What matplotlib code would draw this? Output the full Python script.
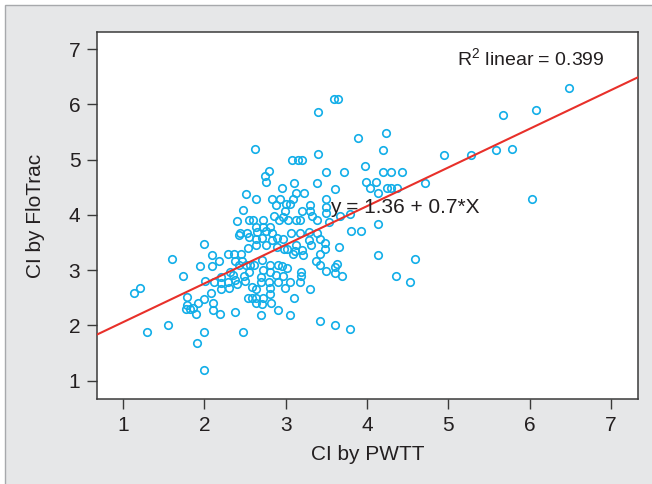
import matplotlib
matplotlib.use("Agg")
import matplotlib.pyplot as plt
from matplotlib.patches import Rectangle
import numpy as np

plt.rcParams['font.family'] = ['Liberation Sans', 'DejaVu Sans']
plt.rcParams['mathtext.fontset'] = 'custom'
plt.rcParams['mathtext.rm'] = 'Liberation Sans'

# Data (CI by PWTT, CI by FloTrac)
pwtt = [1.14, 1.21, 1.29, 1.55, 1.60, 1.74, 1.79, 1.79, 1.77, 1.82, 1.86, 1.90, 1.92, 1.99,
        1.91, 1.99, 2.00, 2.48, 2.00, 1.94, 2.01, 2.09, 2.09, 2.18, 2.29, 2.37, 2.45, 2.38,
        2.46, 2.54, 2.08, 2.10, 2.11, 2.19, 2.20, 2.21, 2.12, 2.21, 2.29, 2.31, 2.30, 2.35,
        2.38, 2.40, 2.38, 2.43, 2.51, 2.49, 2.50, 2.53, 2.59, 2.64, 2.59, 2.55, 2.56, 2.61,
        2.63, 2.62, 2.51, 2.63, 2.48, 2.40, 2.55, 2.60, 2.64, 2.42, 2.44, 2.52, 2.55, 2.63,
        2.65, 3.89, 4.23, 4.20, 3.40, 3.08, 3.15, 3.20, 3.97, 2.79, 2.75, 2.76, 3.50, 3.71,
        4.20, 4.29, 4.43, 3.10, 3.39, 3.99, 4.11, 4.03, 4.14, 4.25, 4.30, 4.37, 2.95, 3.60,
        3.13, 3.23, 2.83, 2.93, 3.09, 3.50, 2.88, 3.00, 3.05, 3.20, 3.30, 3.30, 3.50, 3.50,
        2.99, 2.86, 2.97, 3.32, 3.38, 3.67, 3.53, 3.80, 3.92, 4.14, 2.72, 2.72, 2.81, 2.92,
        3.03, 3.12, 3.18, 2.76, 2.83, 2.71, 2.83, 2.89, 2.97, 3.07, 3.17, 3.28, 3.29, 3.38,
        3.42, 3.31, 3.13, 2.76, 2.64, 3.48, 3.48, 3.66, 3.40, 3.59, 3.64, 6.48, 6.08, 5.67,
        5.78, 5.58, 5.28, 4.94, 4.71, 6.03, 4.59, 4.36, 4.53, 3.79, 3.42, 3.42, 3.63, 3.60,
        3.50, 3.60, 3.69, 4.13, 3.42, 3.60, 3.79, 2.89, 2.98, 3.02, 3.09, 3.11, 3.20, 3.21,
        2.71, 2.81, 2.72, 2.91, 2.96, 3.01, 2.70, 2.81, 2.88, 2.97, 3.05, 2.90, 2.80, 2.69,
        2.64, 2.81, 2.99, 3.17, 3.19, 3.19, 3.30, 3.37, 2.81, 3.10, 2.72, 2.71, 2.82, 2.91,
        2.70, 3.05]
flotrac = [2.59, 2.68, 1.88, 2.00, 3.21, 2.90, 2.51, 2.37, 2.30, 2.30, 2.31, 2.20, 2.40, 2.48,
           1.68, 1.88, 1.19, 1.88, 3.48, 3.08, 2.81, 3.28, 3.08, 3.16, 3.29, 3.29, 3.29, 3.17,
           3.17, 3.40, 2.59, 2.41, 2.28, 2.20, 2.66, 2.77, 2.79, 2.88, 2.79, 2.96, 2.68, 2.91,
           2.82, 2.75, 2.25, 3.10, 3.10, 2.90, 2.81, 2.49, 2.50, 2.49, 2.70, 2.97, 3.10, 3.10,
           2.40, 5.20, 4.38, 4.29, 4.09, 3.89, 3.90, 3.90, 3.78, 3.63, 3.68, 3.68, 3.61, 3.56,
           3.69, 5.39, 5.49, 5.18, 5.11, 4.99, 4.99, 4.99, 4.89, 4.79, 4.70, 4.59, 4.78, 4.78,
           4.78, 4.78, 4.78, 4.58, 4.58, 4.59, 4.59, 4.48, 4.39, 4.48, 4.48, 4.48, 4.49, 4.47,
           4.39, 4.39, 4.29, 4.29, 4.29, 4.29, 4.18, 4.20, 4.20, 4.08, 4.18, 4.07, 4.14, 4.03,
           4.08, 3.99, 3.97, 3.98, 3.91, 3.98, 3.88, 3.71, 3.71, 3.84, 3.90, 3.79, 3.79, 3.90,
           3.90, 3.90, 3.90, 3.71, 3.68, 3.58, 3.55, 3.59, 3.57, 3.68, 3.68, 3.70, 3.55, 3.68,
           3.57, 3.46, 3.46, 3.46, 3.46, 3.50, 3.39, 3.42, 5.87, 6.09, 6.09, 6.29, 5.90, 5.80,
           5.20, 5.17, 5.09, 5.09, 4.58, 4.29, 3.20, 2.89, 2.79, 4.01, 3.29, 3.09, 3.11, 3.05,
           2.98, 2.95, 2.90, 3.28, 2.09, 2.00, 1.94, 3.42, 3.39, 3.39, 3.30, 3.35, 3.37, 3.28,
           3.19, 3.10, 3.01, 3.10, 3.08, 3.04, 2.88, 2.96, 2.91, 2.90, 2.78, 2.79, 2.79, 2.79,
           2.66, 2.67, 2.68, 2.79, 2.97, 2.90, 2.66, 3.17, 2.57, 2.50, 2.49, 2.38, 2.40, 2.28,
           2.19, 2.19]

intercept = 1.36
slope = 0.7
r2 = 0.399
xticks = [1, 2, 3, 4, 5, 6, 7]
yticks = [1, 2, 3, 4, 5, 6, 7]
xlabel = "CI by PWTT"
ylabel = "CI by FloTrac"

W, H = 652, 484
fig = plt.figure(figsize=(W / 100, H / 100), dpi=100)
fig.patch.set_facecolor('white')
bg = Rectangle((5 / W, -0.2), 1.2, 1.2 - 5 / H, transform=fig.transFigure,
               facecolor='#e6e7e8', edgecolor='#a7a9ac', linewidth=1.0, zorder=-10)
fig.add_artist(bg)

ax = fig.add_axes([97 / W, (H - 399) / H, 541 / W, 367 / H])
ax.set_facecolor('white')

ax.plot(pwtt, flotrac, linestyle='none', marker='o', markersize=5.4,
        markerfacecolor='none', markeredgecolor='#12aee8', markeredgewidth=1.2, zorder=3)

xlim = (0.68, 7.33)
ylim = (0.67, 7.31)
ax.set_xlim(xlim)
ax.set_ylim(ylim)
xs = np.array(xlim)
ax.plot(xs, intercept + slope * xs, color='#e8302a', linewidth=1.5, zorder=4)

ax.set_xticks(xticks)
ax.set_yticks(yticks)
ax.tick_params(axis='both', direction='out', length=7, width=1.0, color='#3a3a3a',
               labelsize=15, labelcolor='#231f20', pad=5)

for s in ax.spines.values():
    s.set_color('#3a3a3a')
    s.set_linewidth(1.1)

ax.set_xlabel(xlabel, fontsize=15, color='#231f20')
ax.xaxis.set_label_coords(0.5, -0.125)
ax.set_ylabel(ylabel, fontsize=15, color='#231f20')
ax.yaxis.set_label_coords(-0.097, 0.5)

ax.text(0.939, 0.907, r"R$^{\mathrm{2}}$ linear = %.3f" % r2, transform=ax.transAxes,
        ha='right', va='baseline', fontsize=14, color='#231f20')
ax.text(0.569, 0.506, "y = %.2f + %.1f*X" % (intercept, slope), transform=ax.transAxes,
        ha='center', va='baseline', fontsize=15, color='#231f20', zorder=5)

fig.savefig('out.png', dpi=100)
